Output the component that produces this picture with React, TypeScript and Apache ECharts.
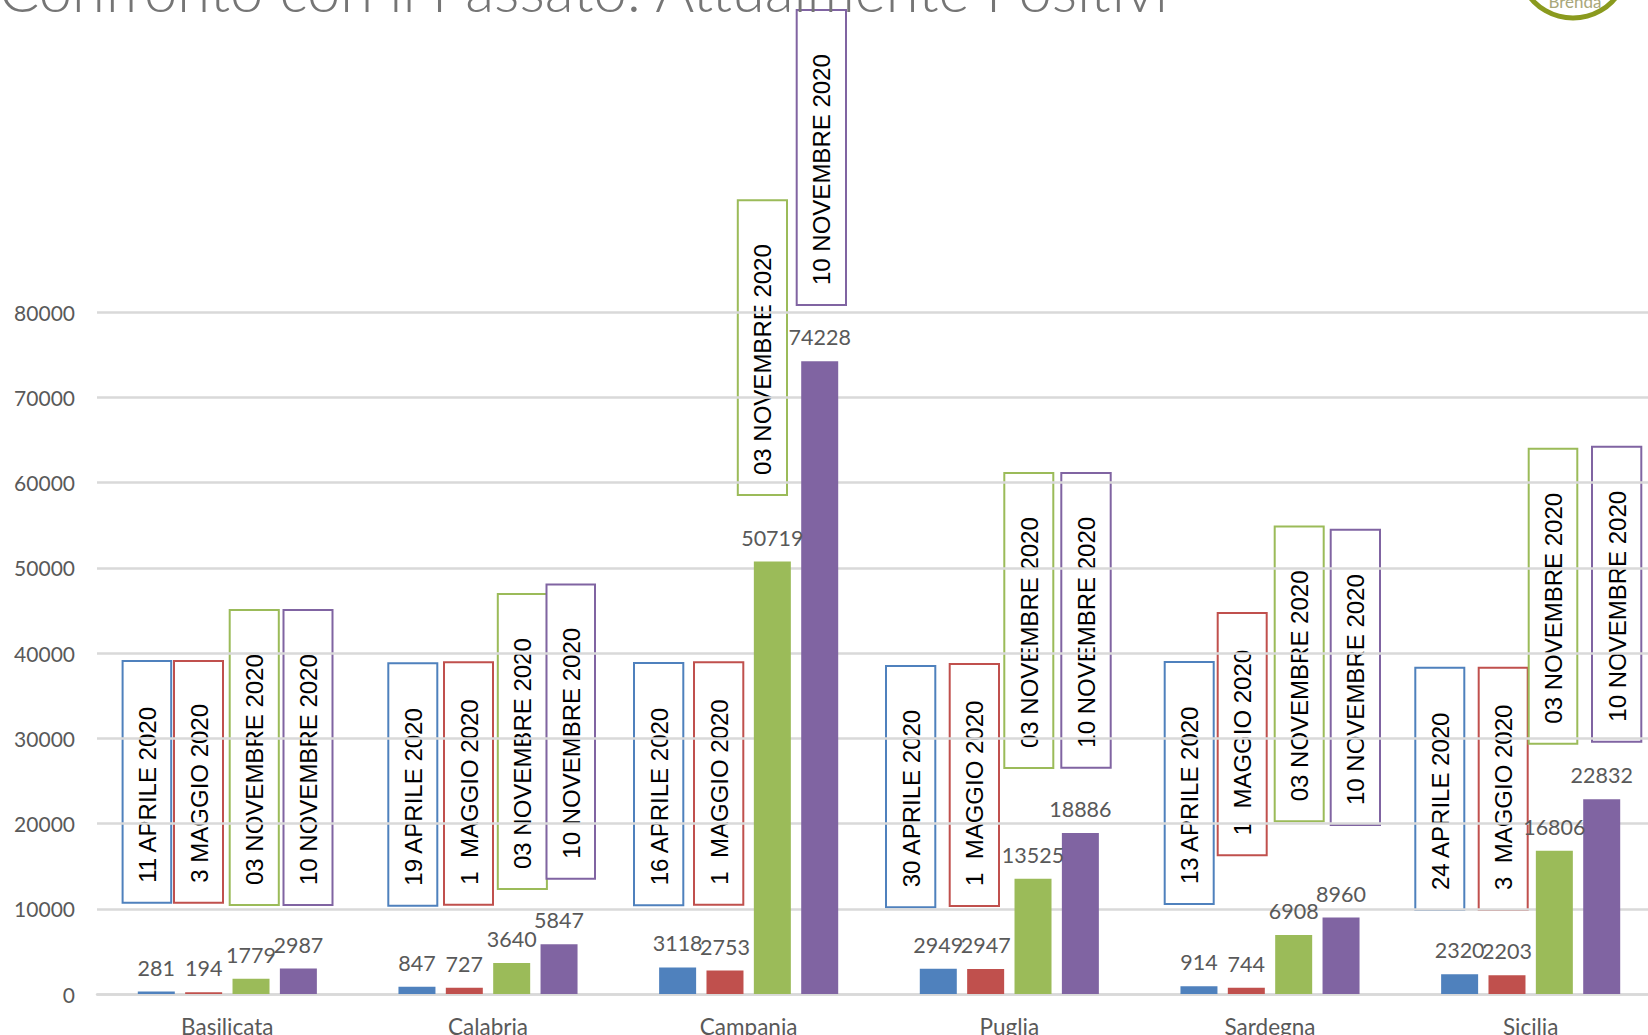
import React, { useEffect, useRef } from "react";
import * as echarts from "echarts";

const categories = ["Basilicata", "Calabria", "Campania", "Puglia", "Sardegna", "Sicilia"];
const firstPeak = [281, 847, 3118, 2949, 914, 2320];
const mayValues = [194, 727, 2753, 2947, 744, 2203];
const nov3Values = [1779, 3640, 50719, 13525, 6908, 16806];
const nov10Values = [2987, 5847, 74228, 18886, 8960, 22832];
const seriesColors = ["#4F81BD", "#C0504D", "#9BBB59", "#8064A2"];
const titleText = "Confronto con il Passato: Attualmente Positivi";

// Overlay callouts: label, colour index, left, top, right, bottom in page pixels
const callouts: [string, number, number, number, number, number][] = [
  ["11 APRILE 2020", 0, 122.6, 661, 171.2, 902.7],
  ["3 MAGGIO 2020", 1, 174, 661, 223, 902.7],
  ["03 NOVEMBRE 2020", 2, 229.7, 610, 278.8, 905],
  ["10 NOVEMBRE 2020", 3, 283.5, 610, 332.5, 905],
  ["19 APRILE 2020", 0, 388.3, 663.3, 437.3, 905.7],
  ["1  MAGGIO 2020", 1, 444, 662.3, 493, 904.7],
  ["03 NOVEMBRE 2020", 2, 497.8, 594, 546.9, 889],
  ["10 NOVEMBRE 2020", 3, 546.5, 584.4, 595, 878.7],
  ["16 APRILE 2020", 0, 634, 663, 683.3, 905.3],
  ["1  MAGGIO 2020", 1, 694, 662.3, 743.3, 904.7],
  ["03 NOVEMBRE 2020", 2, 737.8, 200.3, 787, 495],
  ["10 NOVEMBRE 2020", 3, 796.7, 10, 846, 305],
  ["30 APRILE 2020", 0, 886, 666, 935.3, 907.3],
  ["1  MAGGIO 2020", 1, 949.7, 664, 999, 906],
  ["03 NOVEMBRE 2020", 2, 1004.3, 473, 1053.3, 768],
  ["10 NOVEMBRE 2020", 3, 1061.3, 473, 1110.7, 767.7],
  ["13 APRILE 2020", 0, 1164.7, 662, 1213.7, 904],
  ["1  MAGGIO 2020", 1, 1217.7, 613, 1266.7, 855.3],
  ["03 NOVEMBRE 2020", 2, 1274.7, 526.6, 1323.7, 821.3],
  ["10 NOVEMBRE 2020", 3, 1330.7, 529.7, 1380, 825],
  ["24 APRILE 2020", 0, 1415.3, 667.7, 1464.3, 910],
  ["3  MAGGIO 2020", 1, 1478.7, 667.7, 1527.7, 910],
  ["03 NOVEMBRE 2020", 2, 1528.7, 448.8, 1577.3, 743.7],
  ["10 NOVEMBRE 2020", 3, 1592, 446.7, 1641.3, 741.7],
];

export default function App() {
  const ref = useRef<HTMLDivElement>(null);
  useEffect(() => {
    document.body.style.margin = "0";
    document.body.style.overflow = "hidden";
    const chart = echarts.init(ref.current!, null, { renderer: "svg" });
    const valueSets = [firstPeak, mayValues, nov3Values, nov10Values];
    const names = ["Picco", "Maggio", "03 Novembre 2020", "10 Novembre 2020"];
    const graphicElements: any[] = [];
    callouts.forEach(([label, ci, l, t, r, b]) => {
      graphicElements.push({
        type: "rect",
        z: -1,
        shape: { x: l, y: t, width: r - l, height: b - t },
        style: { fill: "#fff", stroke: seriesColors[ci], lineWidth: 2 },
      });
      graphicElements.push({
        type: "text",
        z: -1,
        x: (l + r) / 2 + 0.5,
        y: b - 20,
        rotation: Math.PI / 2,
        style: {
          text: label,
          x: 0,
          y: 0,
          align: "left",
          verticalAlign: "middle",
          fill: "#000",
          font: '24px "Liberation Sans"',
        },
      });
    });
    graphicElements.push({
      type: "text",
      x: -1,
      y: 19,
      style: {
        text: titleText,
        align: "left",
        verticalAlign: "bottom",
        fill: "#757575",
        font: "300 59.6px Lato",
      },
    });
    graphicElements.push({
      type: "ring",
      shape: { cx: 1573, cy: -37, r: 57.5, r0: 52.5 },
      style: { fill: "#8A9A1E" },
    });
    graphicElements.push({
      type: "text",
      x: 1575,
      y: 1,
      style: { text: "Brenda", align: "center", verticalAlign: "middle", fill: "#A9A77A", font: "17px Lato" },
    });
    chart.setOption({
      animation: false,
      grid: { left: 97, top: 312, width: 1564, height: 682, outerBoundsMode: "none", containLabel: false },
      xAxis: {
        type: "category",
        data: categories,
        axisTick: { show: false },
        axisLine: { lineStyle: { color: "#D9D9D9", width: 2.5 } },
        axisLabel: { color: "#595959", fontFamily: "Lato", fontSize: 22.5, margin: 21, interval: 0 },
      },
      yAxis: {
        type: "value",
        min: 0,
        max: 80000,
        interval: 10000,
        axisLine: { show: false },
        axisTick: { show: false },
        axisLabel: {
          color: "#595959",
          fontFamily: "Lato",
          fontSize: 21,
          margin: 22,
          formatter: (v: number) => String(v),
        },
        splitLine: { lineStyle: { color: "#D9D9D9", width: 2.5 } },
      },
      series: valueSets.map((values, i) => ({
        type: "bar",
        name: names[i],
        data: values,
        barWidth: 37,
        barGap: "28%",
        itemStyle: { color: seriesColors[i] },
        z: 3,
        label: {
          show: true,
          position: "top",
          distance: 13,
          color: "#595959",
          fontFamily: "Lato",
          fontSize: 21.5,
        },
      })),
      graphic: graphicElements,
    });
    return () => chart.dispose();
  }, []);
  return <div ref={ref} style={{ width: 1648, height: 1035 }} />;
}
